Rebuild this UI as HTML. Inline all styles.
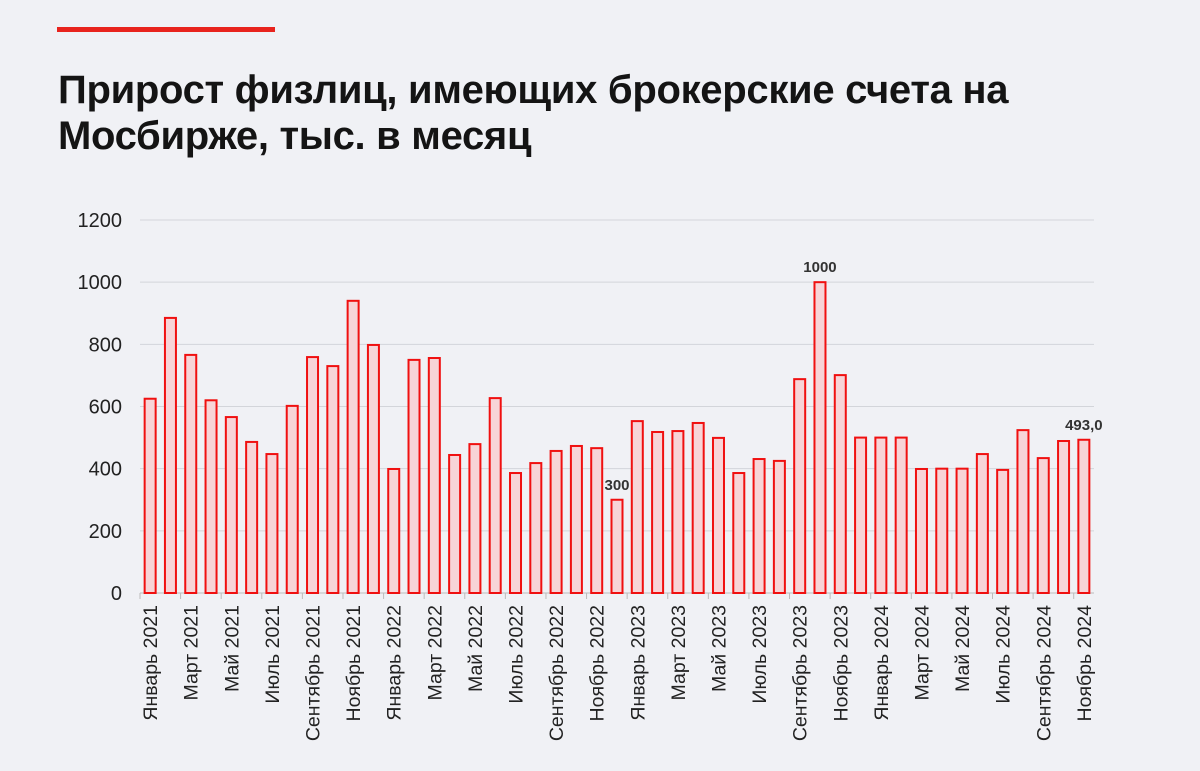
<!DOCTYPE html>
<html><head><meta charset="utf-8"><style>
body{margin:0;width:1200px;height:771px;background:#f0f1f5;font-family:"Liberation Sans",sans-serif;overflow:hidden}
</style></head><body>
<div style="position:absolute;left:57px;top:27px;width:218px;height:5px;background:#e8231d"></div>
<div style="position:absolute;left:58px;top:67px;font-size:40px;font-weight:bold;line-height:46px;color:#141414;letter-spacing:-0.3px">Прирост физлиц, имеющих брокерские счета на<br>Мосбирже, тыс. в месяц</div>
<svg id="chart" width="1200" height="771" style="position:absolute;left:0;top:0"></svg>
<script>
const months=["Январь","Февраль","Март","Апрель","Май","Июнь","Июль","Август","Сентябрь","Октябрь","Ноябрь","Декабрь"];
const categories=[];
for(let y=2021;y<=2024;y++)for(let m=0;m<12;m++){if(y===2024&&m>10)break;categories.push(months[m]+" "+y);}
const values=[625,885,766,620,566,486,447,602,759,730,940,798,399,750,756,444,479,627,386,418,457,473,466,300,553,518,521,547,499,386,431,425,688,1000,701,500,500,500,399,400,400,447,396,524,434,489,493];
const yTicks=[0,200,400,600,800,1000,1200];
const annotations={23:"300",33:"1000",46:"493,0"};
const NS="http://www.w3.org/2000/svg";
const svg=document.getElementById('chart');
const x0=140,x1=1094,y0=593,y1=220,ymax=1200;
const band=(x1-x0)/categories.length;
const X=i=>x0+band*(i+0.5);
const Y=v=>y0-(v/ymax)*(y0-y1);
function mk(t,a){const e=document.createElementNS(NS,t);for(const k in a)e.setAttribute(k,a[k]);svg.appendChild(e);return e;}
yTicks.forEach(t=>{
 const g=mk('line',{x1:x0,x2:x1,y1:Y(t),y2:Y(t),stroke:t===0?'#bbb':'#d3d5da','stroke-width':1});
 
 
 const l=mk('text',{x:122,y:Y(t)+7,'text-anchor':'end','font-size':20,fill:'#222'});
 l.textContent=t;
 
 
});
values.forEach((v,i)=>{
 const r=mk('rect',{x:X(i)-5.5,y:Y(v),width:11,height:y0-Y(v),fill:'#f7d4d7',stroke:'#f01010','stroke-width':2});
 
 
 if(i%2===0){
  const tk=mk('line',{x1:x0+band*i,x2:x0+band*i,y1:y0,y2:y0+6,stroke:'#bbb'});
  
  
  const l=mk('text',{x:0,y:0,'text-anchor':'end','font-size':19.5,fill:'#222',transform:`translate(${X(i)+7},${y0+12}) rotate(-90)`});
  l.textContent=categories[i];
  
  
 }
 if(annotations[i]){
  const a=mk('text',{x:X(i),y:Y(v)-10,'text-anchor':'middle','font-size':15,'font-weight':'bold',fill:'#333'});
  a.textContent=annotations[i];
  
  
 }
});
</script>
</body></html>
